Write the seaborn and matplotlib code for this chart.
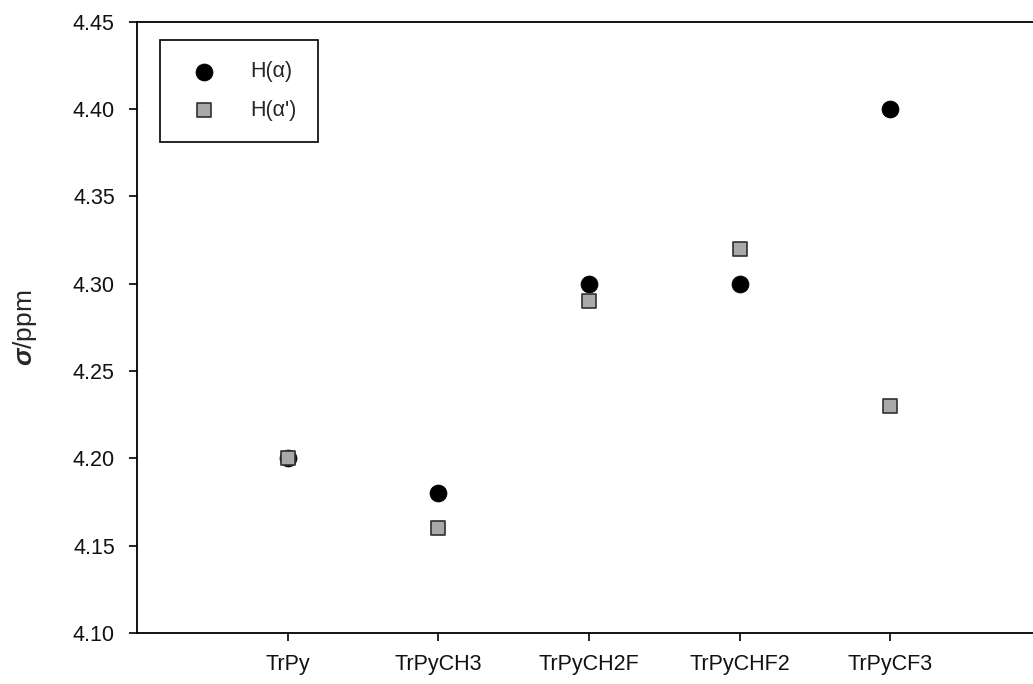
import matplotlib
matplotlib.use("Agg")
import matplotlib.pyplot as plt
import seaborn as sns
import pandas as pd

compounds = ["TrPy", "TrPyCH3", "TrPyCH2F", "TrPyCHF2", "TrPyCF3"]
h_alpha = [4.20, 4.18, 4.30, 4.30, 4.40]
h_alpha_prime = [4.20, 4.16, 4.29, 4.32, 4.23]
y_ticks = [4.10, 4.15, 4.20, 4.25, 4.30, 4.35, 4.40, 4.45]

sns.set_theme(style="white")
plt.rcParams["font.family"] = ["Liberation Sans", "DejaVu Sans"]
plt.rcParams["mathtext.fontset"] = "custom"
plt.rcParams["mathtext.bf"] = "Liberation Sans:bold:italic"
plt.rcParams["mathtext.rm"] = "Liberation Sans"

pos = list(range(1, len(compounds) + 1))
df_a = pd.DataFrame({"x": pos, "y": h_alpha})
df_b = pd.DataFrame({"x": pos, "y": h_alpha_prime})

fig = plt.figure(figsize=(10.33, 6.84), dpi=100)
ax = fig.add_axes([0.1326, 0.0746, 0.8751, 0.8934])

sns.scatterplot(data=df_a, x="x", y="y", ax=ax, marker="o", s=150,
                color="black", edgecolor="black", linewidth=0.5,
                label="H(α)", zorder=3)
sns.scatterplot(data=df_b, x="x", y="y", ax=ax, marker="s", s=95,
                color="#a9a9a9", edgecolor="#303030", linewidth=1.2,
                label="H(α')", zorder=4)

ax.set_xlim(0, len(compounds) + 1)
ax.set_ylim(4.10, 4.45)
ax.set_xticks(pos)
ax.set_xticklabels(compounds)
ax.set_yticks(y_ticks)
ax.set_yticklabels([f"{v:.2f}" for v in y_ticks])
ax.set_xlabel("")
ax.set_ylabel(r"$\mathbf{\sigma}$/ppm", fontsize=19, labelpad=0)
ax.yaxis.set_label_coords(-0.108, 0.5)

for side in ["left", "bottom", "top", "right"]:
    ax.spines[side].set_color("black")
    ax.spines[side].set_linewidth(1.3)
ax.tick_params(axis="both", direction="out", length=6, width=1.2,
               color="black", labelsize=15.5, labelcolor="#111111",
               left=True, bottom=True)
ax.tick_params(axis="y", pad=10)
ax.tick_params(axis="x", pad=9)

leg = ax.legend(loc="upper left", frameon=True, fancybox=False,
                edgecolor="black", fontsize=15.5, borderpad=1.0,
                labelspacing=0.8, handlelength=2.1, handletextpad=1.1,
                borderaxespad=0, bbox_to_anchor=(0.0254, 0.9705))
leg.get_frame().set_linewidth(1.2)
leg.get_frame().set_facecolor("white")
leg.get_frame().set_alpha(1)

fig.savefig("out.png", dpi=100)
